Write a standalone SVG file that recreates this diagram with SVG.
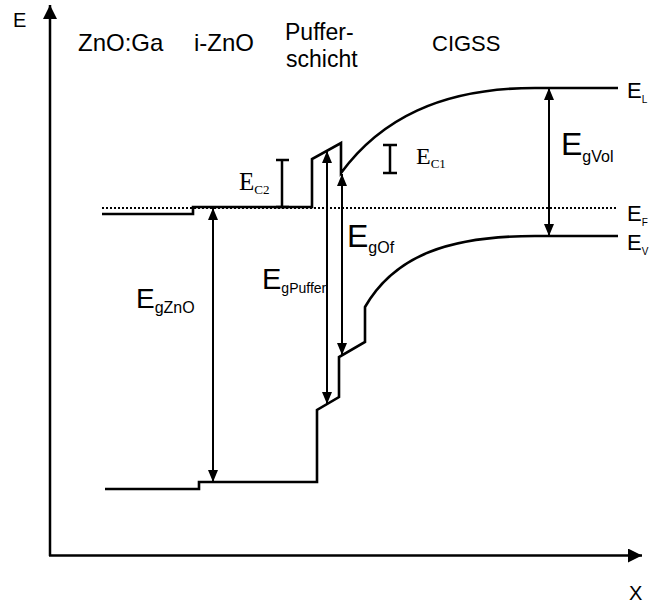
<svg xmlns="http://www.w3.org/2000/svg" width="651" height="606" viewBox="0 0 651 606">
<defs>
<marker id="ah" viewBox="0 0 12 10" markerWidth="12" markerHeight="10" markerUnits="userSpaceOnUse" refX="12" refY="5" orient="auto-start-reverse"><path d="M0,0 L12,5 L0,10 z" fill="#000"/></marker>
<marker id="axh" viewBox="0 0 14 14" markerWidth="14" markerHeight="14" markerUnits="userSpaceOnUse" refX="14" refY="7" orient="auto"><path d="M0,0 L14,7 L0,14 z" fill="#000"/></marker>
</defs>
<style>
.sans{font-family:"Liberation Sans","DejaVu Sans",sans-serif;fill:#000}
.serif{font-family:"Liberation Serif","DejaVu Serif",serif;fill:#000}
.band{fill:none;stroke:#000;stroke-width:2.6;stroke-linejoin:miter}
.arr{fill:none;stroke:#000;stroke-width:2;marker-start:url(#ah);marker-end:url(#ah)}
.ax{fill:none;stroke:#000;stroke-width:2.5;marker-end:url(#axh)}
.ibar{fill:none;stroke:#000;stroke-width:2.5}
</style>
<rect width="651" height="606" fill="#fff"/>
<g id="axes">
<path class="ax" d="M50,556 V5"/>
<path class="ax" d="M49,555.5 H642"/>
<text class="sans" x="13" y="27" font-size="20">E</text>
<text class="sans" x="629" y="600" font-size="20">X</text>
</g>
<g id="layer-labels">
<text class="sans" x="78" y="51" font-size="24">ZnO:Ga</text>
<text class="sans" x="194" y="51" font-size="24">i-ZnO</text>
<text class="sans" x="285" y="40" font-size="23">Puffer-</text>
<text class="sans" x="286" y="67" font-size="23">schicht</text>
<text class="sans" x="432" y="51" font-size="22">CIGSS</text>
</g>
<g id="bands">
<path id="conduction-band" class="band" d="M102,214 H193 V207 H312 V159 L341,143 V173 C380,120 440,88 535,88 H618"/>
<path id="fermi-level" fill="none" stroke="#000" stroke-width="2" stroke-dasharray="2,2" d="M102,208 H618"/>
<path id="valence-band" class="band" d="M105,489 H199 V482 H317 V410 L339,397 V357 L365,342 V307 C395,255 450,236 535,236 H618"/>
</g>
<g id="connectors">
<path class="arr" d="M213,208 V482"/>
<path class="arr" d="M327,151 V404"/>
<path class="arr" d="M342,174 V355"/>
<path class="arr" d="M549,88 V236"/>
<path class="ibar" d="M282,160 V207 M276,160 H289 M276,207 H289"/>
<path class="ibar" d="M390,145 V173 M383,145 H397 M383,173 H397"/>
</g>
<g id="level-labels">
<text class="serif" x="239" y="190" font-size="25">E<tspan font-size="13" dy="4">C2</tspan></text>
<text class="serif" x="416" y="164" font-size="24">E<tspan font-size="13" dy="4">C1</tspan></text>
<text class="sans" x="561" y="155" font-size="32">E<tspan font-size="16" dy="7">gVol</tspan></text>
<text class="sans" x="347" y="247" font-size="32">E<tspan font-size="16" dy="6">gOf</tspan></text>
<text class="sans" x="262" y="289" font-size="29">E<tspan font-size="14" dy="4">gPuffer</tspan></text>
<text class="sans" x="136" y="308" font-size="28">E<tspan font-size="16" dy="5">gZnO</tspan></text>
<text class="sans" x="627" y="98" font-size="22">E<tspan font-size="10" dy="5">L</tspan></text>
<text class="sans" x="627" y="221" font-size="22">E<tspan font-size="10" dy="5">F</tspan></text>
<text class="sans" x="627" y="250" font-size="22">E<tspan font-size="10" dy="5">V</tspan></text>
</g>
</svg>
